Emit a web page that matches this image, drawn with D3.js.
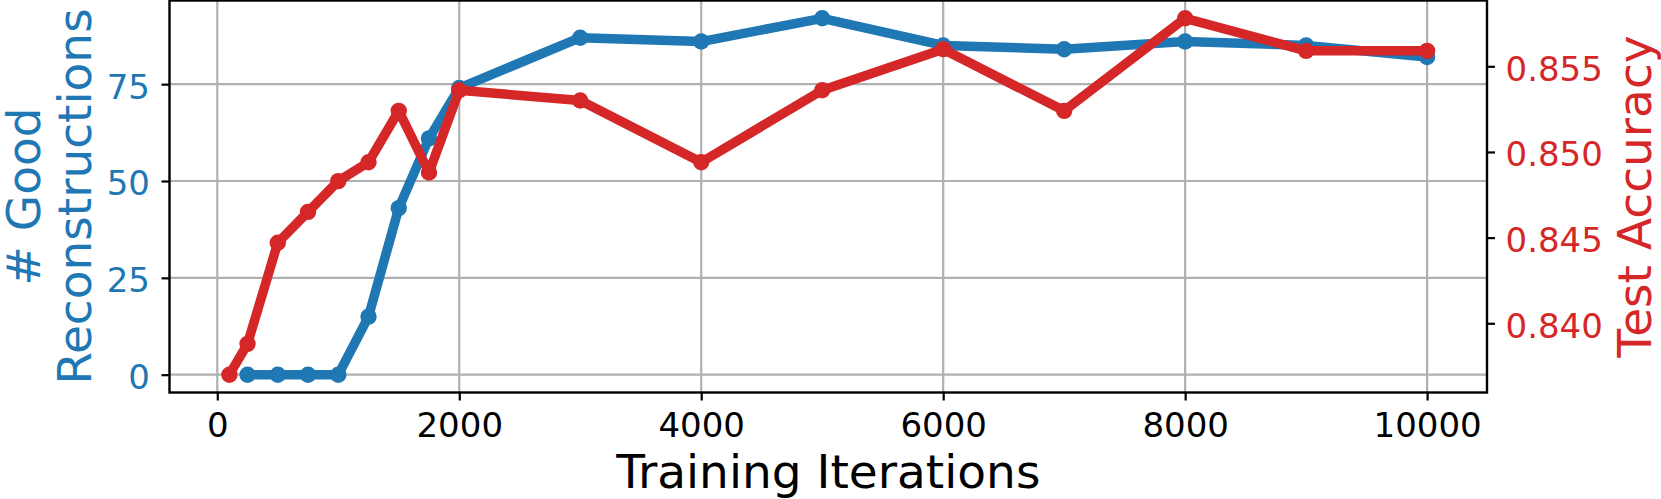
<!DOCTYPE html>
<html>
<head>
<meta charset="utf-8">
<script src="https://cdn.jsdelivr.net/npm/d3@7/dist/d3.min.js"></script>
<style>
  html, body { margin: 0; padding: 0; background: #fff; }
  svg text { font-family: "DejaVu Sans", sans-serif; }
</style>
</head>
<body>
<div id="chart"></div>
<script>
// blue series: # good reconstructions
const reconIters = [250, 500, 750, 1000, 1250, 1500, 1750, 2000, 3000, 4000, 5000, 6000, 7000, 8000, 9000, 10000];
const goodRecon = [0, 0, 0, 0, 15, 43, 61, 74, 87, 86, 92, 85, 84, 86, 85, 82];
// red series: test accuracy
const accIters = [100, 250, 500, 750, 1000, 1250, 1500, 1750, 2000, 3000, 4000, 5000, 6000, 7000, 8000, 9000, 10000];
const testAcc = [0.8370, 0.8388, 0.8447, 0.8465, 0.8483, 0.8494, 0.8524, 0.8488, 0.8536, 0.8530, 0.8494, 0.8536, 0.8560, 0.8524, 0.8578, 0.8559, 0.8559];
// tick labels
const xTicks = [0, 2000, 4000, 6000, 8000, 10000];
const leftTicks = [0, 25, 50, 75];
const rightTicks = [0.840, 0.845, 0.850, 0.855];

const blue = "#1f77b4", red = "#d62728";
const width = 1661, height = 499;
const plot = { left: 169.5, right: 1487, top: 0.5, bottom: 392.5 };

const svg = d3.select("#chart").append("svg")
    .attr("width", width)
    .attr("height", height);

// matplotlib-style 5% margins
const pad = (ext) => { const d = (ext[1] - ext[0]) * 0.05; return [ext[0] - d, ext[1] + d]; };

const x = d3.scaleLinear()
    .domain(pad(d3.extent(accIters)))
    .range([plot.left, plot.right]);
const yL = d3.scaleLinear()
    .domain(pad(d3.extent(goodRecon)))
    .range([plot.bottom, plot.top]);
const yR = d3.scaleLinear()
    .domain(pad(d3.extent(testAcc)))
    .range([plot.bottom, plot.top]);

// grid
svg.append("g")
    .selectAll("line")
    .data(xTicks)
    .join("line")
    .attr("x1", d => x(d)).attr("x2", d => x(d))
    .attr("y1", plot.top).attr("y2", plot.bottom)
    .attr("stroke", "#b0b0b0").attr("stroke-width", 2.2);
svg.append("g")
    .selectAll("line")
    .data(leftTicks)
    .join("line")
    .attr("x1", plot.left).attr("x2", plot.right)
    .attr("y1", d => yL(d)).attr("y2", d => yL(d))
    .attr("stroke", "#b0b0b0").attr("stroke-width", 2.2);

// series
function drawSeries(xs, ys, yScale, color) {
    const pts = xs.map((d, i) => [d, ys[i]]);
    const line = d3.line()
        .x(d => x(d[0]))
        .y(d => yScale(d[1]));
    svg.append("path")
        .datum(pts)
        .attr("fill", "none")
        .attr("stroke", color)
        .attr("stroke-width", 9.5)
        .attr("stroke-linejoin", "round")
        .attr("d", line);
    svg.append("g")
        .selectAll("circle")
        .data(pts)
        .join("circle")
        .attr("cx", d => x(d[0]))
        .attr("cy", d => yScale(d[1]))
        .attr("r", 8.2)
        .attr("fill", color);
}
drawSeries(reconIters, goodRecon, yL, blue);
drawSeries(accIters, testAcc, yR, red);

// frame
svg.append("rect")
    .attr("x", plot.left).attr("y", plot.top)
    .attr("width", plot.right - plot.left)
    .attr("height", plot.bottom - plot.top)
    .attr("fill", "none")
    .attr("stroke", "#000")
    .attr("stroke-width", 2.4);

// axes
const styleAxis = (g, color) => {
    g.select(".domain").remove();
    g.selectAll(".tick line").attr("stroke", "#000").attr("stroke-width", 2.2);
    g.selectAll(".tick text")
        .attr("fill", color)
        .style("font-size", "34px")
        .style("font-family", "'DejaVu Sans', sans-serif");
};

svg.append("g")
    .attr("transform", `translate(0,${plot.bottom})`)
    .call(d3.axisBottom(x).tickValues(xTicks).tickSize(8).tickFormat(d3.format("d")))
    .call(g => styleAxis(g, "#000"))
    .call(g => g.selectAll(".tick text").attr("y", 44).attr("dy", null));

svg.append("g")
    .attr("transform", `translate(${plot.left},0)`)
    .call(d3.axisLeft(yL).tickValues(leftTicks).tickSize(8).tickPadding(11.5))
    .call(g => styleAxis(g, blue))
    .call(g => g.selectAll(".tick text").attr("dy", "0.41em"));

svg.append("g")
    .attr("transform", `translate(${plot.right},0)`)
    .call(d3.axisRight(yR).tickValues(rightTicks).tickSize(8).tickPadding(10.5).tickFormat(d3.format(".3f")))
    .call(g => styleAxis(g, red))
    .call(g => g.selectAll(".tick text").attr("dy", "0.41em"));

// axis labels
const midX = (plot.left + plot.right) / 2;
const midY = (plot.top + plot.bottom) / 2;

svg.append("text")
    .attr("x", midX).attr("y", 488)
    .attr("text-anchor", "middle")
    .style("font-size", "47px")
    .attr("fill", "#000")
    .text("Training Iterations");

const leftLabel = svg.append("text")
    .attr("transform", `translate(0,${midY}) rotate(-90)`)
    .attr("text-anchor", "middle")
    .style("font-size", "47px")
    .attr("fill", blue);
leftLabel.append("tspan").attr("x", 0).attr("y", 39.5).text("# Good");
leftLabel.append("tspan").attr("x", 0).attr("y", 90.5).text("Reconstructions");

svg.append("text")
    .attr("transform", `translate(1651,${midY}) rotate(-90)`)
    .attr("text-anchor", "middle")
    .style("font-size", "47px")
    .attr("fill", red)
    .text("Test Accuracy");
</script>
</body>
</html>
